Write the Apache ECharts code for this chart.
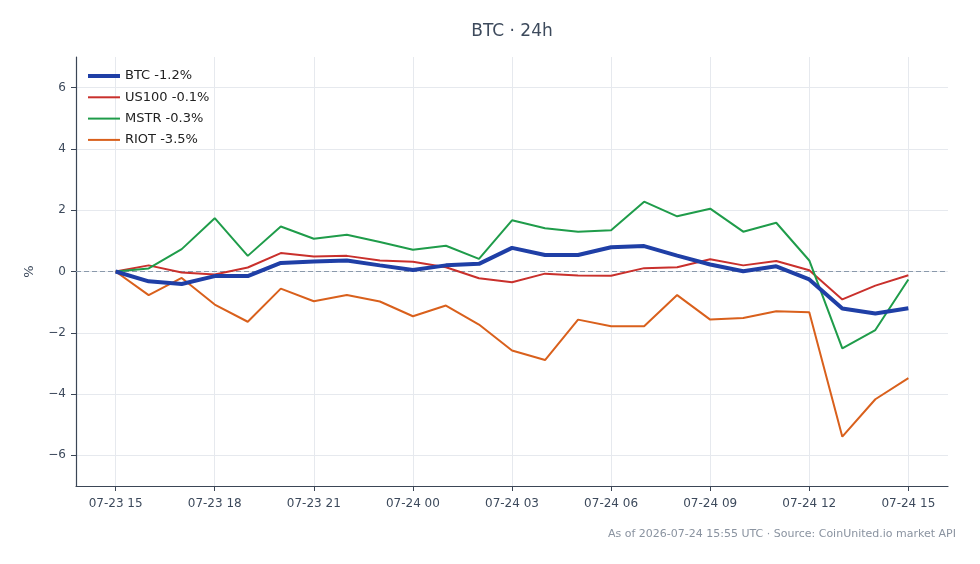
<!DOCTYPE html>
<html>
<head>
<meta charset="utf-8">
<title>BTC 24h</title>
<script src="https://cdn.jsdelivr.net/npm/echarts@6/dist/echarts.min.js"></script>
<style>
  html, body { margin: 0; padding: 0; background: #fff; }
  #chart { width: 980px; height: 564px; }
</style>
</head>
<body>
<div id="chart"></div>
<script>
  // hours since 07-23 15:00 UTC
  const hours = [0, 1, 2, 3, 4, 5, 6, 7, 8, 9, 10, 11, 12, 13, 14, 15, 16, 17, 18, 19, 20, 21, 22, 23, 24];
  const tickHours = [0, 3, 6, 9, 12, 15, 18, 21, 24];
  const tickLabels = ['07-23 15', '07-23 18', '07-23 21', '07-24 00', '07-24 03', '07-24 06', '07-24 09', '07-24 12', '07-24 15'];
  const yTicks = [-6, -4, -2, 0, 2, 4, 6];

  // % change vs start
  const btc = [0, -0.32, -0.41, -0.15, -0.15, 0.28, 0.33, 0.36, 0.2, 0.05, 0.2, 0.25, 0.77, 0.54, 0.54, 0.79, 0.83, 0.52, 0.23, 0.01, 0.17, -0.26, -1.21, -1.37, -1.2];
  const us100 = [0, 0.2, -0.03, -0.1, 0.13, 0.6, 0.49, 0.51, 0.36, 0.32, 0.14, -0.22, -0.35, -0.07, -0.13, -0.14, 0.11, 0.14, 0.4, 0.2, 0.34, 0.04, -0.91, -0.46, -0.12];
  const mstr = [0, 0.1, 0.73, 1.74, 0.51, 1.47, 1.07, 1.2, 0.96, 0.71, 0.84, 0.41, 1.67, 1.41, 1.3, 1.35, 2.28, 1.8, 2.05, 1.3, 1.59, 0.36, -2.51, -1.91, -0.26];
  const riot = [0, -0.77, -0.21, -1.08, -1.64, -0.56, -0.97, -0.77, -0.98, -1.46, -1.11, -1.73, -2.58, -2.89, -1.57, -1.79, -1.79, -0.77, -1.57, -1.52, -1.3, -1.33, -5.39, -4.17, -3.48];

  const names = ['BTC -1.2%', 'US100 -0.1%', 'MSTR -0.3%', 'RIOT -3.5%'];
  const colors = ['#1f3fa6', '#c9302c', '#1f9c4a', '#d9601c'];
  const widths = [4, 2, 2, 2];
  const values = [btc, us100, mstr, riot];

  const axisColor = '#3b4656';
  const font = 'DejaVu Sans';

  const chart = echarts.init(document.getElementById('chart'));

  const series = values.map((vals, i) => {
    const s = {
      name: names[i],
      type: 'line',
      data: hours.map((h, j) => [h, vals[j]]),
      showSymbol: false,
      symbol: 'none',
      z: i === 0 ? 5 : 3,
      lineStyle: { color: colors[i], width: widths[i] },
      itemStyle: { color: colors[i] }
    };
    if (i === 0) {
      s.markLine = {
        silent: true,
        symbol: 'none',
        label: { show: false },
        lineStyle: { color: '#8a99ab', type: [5, 3], width: 1 },
        data: [{ yAxis: 0 }],
        z: 1
      };
    }
    return s;
  });

  chart.setOption({
    animation: false,
    textStyle: { fontFamily: font },
    grid: { left: 76, right: 32, top: 57, bottom: 78 },
    graphic: [
      {
        type: 'text', x: 512, y: 32,
        style: { text: 'BTC · 24h', fill: '#3d4a5c', font: '17px "DejaVu Sans"', textAlign: 'center', textVerticalAlign: 'middle' }
      },
      {
        type: 'text', x: 956, y: 534,
        style: { text: 'As of 2026-07-24 15:55 UTC · Source: CoinUnited.io market API', fill: '#8a93a0', font: '11px "DejaVu Sans"', textAlign: 'right', textVerticalAlign: 'middle' }
      }
    ],
    legend: {
      left: 86, top: 69, padding: 0,
      orient: 'vertical',
      itemWidth: 32, itemHeight: 14, itemGap: 7.3,
      itemStyle: { opacity: 0 },
      textStyle: { color: '#222', fontSize: 13, fontFamily: font, lineHeight: 14 },
      data: names.map((n, i) => ({ name: n, lineStyle: { width: widths[i], color: colors[i] } }))
    },
    xAxis: {
      type: 'value',
      min: -1.2, max: 25.2,
      axisLine: { onZero: false, lineStyle: { color: axisColor, width: 1.2 } },
      axisTick: { show: true, inside: false, length: 5, customValues: tickHours, lineStyle: { color: axisColor } },
      axisLabel: {
        customValues: tickHours,
        color: '#3d4a5c', fontSize: 12, margin: 12,
        formatter: v => tickLabels[tickHours.indexOf(Math.round(v))] || ''
      },
      splitLine: { show: true, lineStyle: { color: '#e6e9ee', width: 1 } }
    },
    yAxis: {
      type: 'value',
      min: -7, max: 7,
      name: '%', nameLocation: 'middle', nameGap: 40, nameRotate: 90,
      nameTextStyle: { color: '#3d4a5c', fontSize: 13 },
      axisLine: { show: true, onZero: false, lineStyle: { color: axisColor, width: 1.2 } },
      axisTick: { show: true, inside: false, length: 5, customValues: yTicks, lineStyle: { color: axisColor } },
      axisLabel: {
        customValues: yTicks,
        color: '#3d4a5c', fontSize: 12, margin: 10,
        formatter: v => String(v).replace('-', '\u2212')
      },
      splitLine: { show: true, lineStyle: { color: '#e6e9ee', width: 1 } }
    },
    series: series
  });
</script>
</body>
</html>
